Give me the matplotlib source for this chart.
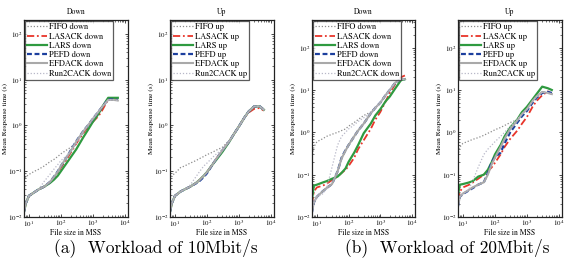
import numpy as np
import matplotlib
matplotlib.use("Agg")
import matplotlib.pyplot as plt

# ---------------- data ----------------
file_size = [7, 8, 10, 15, 20, 30, 45, 60, 80, 100, 150, 200, 300, 500, 700,
             1000, 1500, 2000, 3000, 4500, 6000]

series_names = ["FIFO", "LASACK", "LARS", "PEFD", "EFDACK", "Run2CACK"]

# (a) 10 Mbit/s, Down
down10_fifo   = [0.06, 0.075, 0.085, 0.10, 0.11, 0.13, 0.16, 0.18, 0.21, 0.24, 0.29, 0.33, 0.42, 0.70, 0.95, 1.35, 1.95, 2.6, 3.6, 3.6, 3.5]
down10_lasack = [0.013, 0.02, 0.029, 0.035, 0.04, 0.046, 0.056, 0.07, 0.092, 0.12, 0.18, 0.25, 0.40, 0.68, 0.92, 1.2, 1.6, 2.2, 3.7, 3.8, 3.7]
down10_lars   = [0.013, 0.02, 0.029, 0.035, 0.04, 0.046, 0.055, 0.065, 0.08, 0.10, 0.15, 0.20, 0.30, 0.55, 0.80, 1.2, 1.8, 2.6, 4.0, 4.0, 4.0]
down10_pefd   = [0.013, 0.02, 0.029, 0.035, 0.04, 0.046, 0.058, 0.075, 0.10, 0.13, 0.20, 0.28, 0.45, 0.75, 1.0, 1.4, 2.0, 2.6, 3.7, 3.7, 3.6]
down10_efdack = [0.013, 0.02, 0.029, 0.035, 0.04, 0.046, 0.058, 0.074, 0.098, 0.13, 0.20, 0.27, 0.44, 0.74, 1.0, 1.4, 2.0, 2.6, 3.6, 3.6, 3.5]
down10_run2   = [0.013, 0.02, 0.029, 0.035, 0.04, 0.06, 0.085, 0.11, 0.14, 0.17, 0.22, 0.27, 0.40, 0.72, 1.0, 1.4, 2.0, 2.6, 3.6, 3.6, 3.5]

# (a) 10 Mbit/s, Up
up10_fifo   = [0.065, 0.08, 0.09, 0.12, 0.13, 0.15, 0.17, 0.19, 0.21, 0.23, 0.26, 0.29, 0.33, 0.47, 0.66, 0.95, 1.5, 2.0, 2.5, 2.5, 2.1]
up10_lasack = [0.013, 0.02, 0.029, 0.036, 0.04, 0.046, 0.055, 0.065, 0.08, 0.095, 0.14, 0.19, 0.28, 0.45, 0.65, 0.95, 1.5, 1.9, 2.3, 2.4, 2.1]
up10_lars   = [0.013, 0.02, 0.029, 0.036, 0.04, 0.046, 0.055, 0.065, 0.08, 0.095, 0.14, 0.18, 0.26, 0.44, 0.65, 0.95, 1.5, 2.0, 2.6, 2.6, 2.2]
up10_pefd   = [0.013, 0.02, 0.029, 0.036, 0.04, 0.046, 0.054, 0.062, 0.075, 0.09, 0.14, 0.19, 0.28, 0.45, 0.65, 0.95, 1.5, 2.0, 2.6, 2.6, 2.2]
up10_efdack = [0.013, 0.02, 0.029, 0.036, 0.04, 0.046, 0.055, 0.065, 0.08, 0.095, 0.14, 0.19, 0.28, 0.45, 0.65, 0.95, 1.5, 2.0, 2.6, 2.6, 2.2]
up10_run2   = [0.013, 0.02, 0.029, 0.036, 0.04, 0.05, 0.075, 0.10, 0.13, 0.15, 0.20, 0.24, 0.30, 0.46, 0.66, 0.95, 1.5, 2.0, 2.6, 2.6, 2.2]

# (b) 20 Mbit/s, Down
down20_fifo   = [0.25, 0.45, 0.6, 0.7, 0.8, 0.9, 1.0, 1.1, 1.2, 1.4, 1.7, 2.0, 2.5, 3.0, 3.8, 5.0, 7.7, 10, 15, 18, 18]
down20_lasack = [0.02, 0.04, 0.05, 0.055, 0.06, 0.075, 0.09, 0.11, 0.13, 0.16, 0.25, 0.40, 0.65, 1.2, 2.0, 3.0, 5.5, 8.5, 14, 20, 22]
down20_lars   = [0.026, 0.055, 0.058, 0.065, 0.07, 0.08, 0.09, 0.11, 0.14, 0.20, 0.33, 0.50, 0.95, 1.6, 2.5, 3.5, 5.5, 7.0, 11, 17, 18]
down20_pefd   = [0.013, 0.022, 0.03, 0.04, 0.048, 0.06, 0.12, 0.25, 0.38, 0.50, 0.80, 1.1, 1.6, 2.8, 3.8, 5.0, 7.7, 10, 15, 18, 18]
down20_efdack = [0.013, 0.022, 0.03, 0.04, 0.048, 0.06, 0.12, 0.24, 0.37, 0.50, 0.80, 1.1, 1.6, 2.8, 3.8, 5.0, 7.7, 10, 15, 18, 18]
down20_run2   = [0.013, 0.022, 0.03, 0.035, 0.045, 0.15, 0.5, 0.8, 1.0, 1.2, 1.5, 1.8, 2.2, 2.9, 3.8, 5.0, 7.7, 10, 15, 18, 18]

# (b) 20 Mbit/s, Up
up20_fifo   = [0.28, 0.45, 0.55, 0.62, 0.68, 0.75, 0.85, 0.95, 1.05, 1.15, 1.3, 1.45, 1.7, 2.0, 2.8, 3.5, 5.5, 7.0, 9.0, 8.5, 8.0]
up20_lasack = [0.025, 0.04, 0.05, 0.057, 0.065, 0.08, 0.10, 0.12, 0.15, 0.19, 0.30, 0.45, 0.70, 1.1, 1.6, 2.3, 4.0, 5.5, 7.5, 9.3, 8.0]
up20_lars   = [0.034, 0.058, 0.06, 0.065, 0.07, 0.09, 0.10, 0.13, 0.20, 0.30, 0.50, 0.80, 1.3, 2.0, 3.0, 4.0, 6.0, 8.0, 12, 11, 10]
up20_pefd   = [0.018, 0.03, 0.035, 0.042, 0.048, 0.058, 0.066, 0.11, 0.20, 0.26, 0.33, 0.55, 1.0, 1.7, 2.4, 3.2, 5.0, 6.5, 8.5, 9.0, 8.5]
up20_efdack = [0.018, 0.03, 0.036, 0.043, 0.05, 0.058, 0.066, 0.10, 0.18, 0.25, 0.45, 0.70, 1.2, 1.9, 2.7, 3.5, 5.5, 7.0, 9.0, 8.5, 8.0]
up20_run2   = [0.018, 0.03, 0.036, 0.045, 0.07, 0.15, 0.30, 0.40, 0.50, 0.60, 0.80, 1.0, 1.4, 2.0, 2.7, 3.5, 5.5, 7.0, 9.0, 8.5, 8.0]

panel_titles = ["Down", "Up", "Down", "Up"]
panel_suffix = ["down", "up", "down", "up"]
panel_ymax = [2e2, 2e2, 4.5e2, 4.5e2]
captions = ["(a)  Workload of 10Mbit/s", "(b)  Workload of 20Mbit/s"]

panels = [
    [down10_fifo, down10_lasack, down10_lars, down10_pefd, down10_efdack, down10_run2],
    [up10_fifo, up10_lasack, up10_lars, up10_pefd, up10_efdack, up10_run2],
    [down20_fifo, down20_lasack, down20_lars, down20_pefd, down20_efdack, down20_run2],
    [up20_fifo, up20_lasack, up20_lars, up20_pefd, up20_efdack, up20_run2],
]

# ---------------- style ----------------
plt.rcParams["font.family"] = ["STIXGeneral", "DejaVu Serif"]
plt.rcParams["mathtext.fontset"] = "stix"

styles = [
    dict(color="#8c8c8c", linestyle=(0, (1, 1.5)), linewidth=0.9),            # FIFO
    dict(color="#e8352a", linestyle=(0, (4, 1.5, 1, 1.5)), linewidth=1.3),     # LASACK
    dict(color="#2f9a40", linestyle="-", linewidth=1.6),                       # LARS
    dict(color="#1c3f9e", linestyle=(0, (2.2, 1.2)), linewidth=1.6),           # PEFD
    dict(color="#a9a9a9", linestyle="-", linewidth=1.5),                       # EFDACK
    dict(color="#b8b8c8", linestyle=(0, (1, 1.5)), linewidth=0.9),            # Run2CACK
]

W, H = 566, 261
fig = plt.figure(figsize=(W / 100, H / 100), dpi=100)

lefts = [24, 170, 312, 458]
widths = [104, 104, 103, 104]
top_px, bot_px = 20, 217

for i in range(4):
    ax = fig.add_axes([lefts[i] / W, (H - bot_px) / H, widths[i] / W, (bot_px - top_px) / H])
    for name, ys, st in zip(series_names, panels[i], styles):
        ax.plot(file_size, ys, label=f"{name} {panel_suffix[i]}", **st)
    ax.set_xscale("log")
    ax.set_yscale("log")
    ax.set_xlim(7, 1.25e4)
    ax.set_ylim(1e-2, panel_ymax[i])
    ax.set_title(panel_titles[i], fontsize=5.5, pad=4)
    ax.set_xlabel("File size in MSS", fontsize=5.5, labelpad=0.5)
    ax.set_ylabel("Mean Response time (s)", fontsize=5.2, labelpad=0)
    ax.tick_params(which="both", direction="in", top=True, right=True,
                   labelsize=5, pad=1.2)
    ax.tick_params(which="major", length=2.5, width=0.5)
    ax.tick_params(which="minor", length=1.3, width=0.4)
    for sp in ax.spines.values():
        sp.set_linewidth(0.9)
        sp.set_color("#222222")
    leg = ax.legend(loc="upper left", fontsize=6, frameon=True, fancybox=False,
                    borderaxespad=0.15, handlelength=2.3, handletextpad=0.3,
                    labelspacing=0.15, borderpad=0.25)
    leg.get_frame().set_edgecolor("#333333")
    leg.get_frame().set_linewidth(0.9)

fig.text(156 / W, 1 - 248 / H, captions[0], ha="center", va="center",
         fontsize=12.5, family=["cmr10", "DejaVu Serif"])
fig.text(447 / W, 1 - 248 / H, captions[1], ha="center", va="center",
         fontsize=12.5, family=["cmr10", "DejaVu Serif"])

fig.savefig("out.png", dpi=100)
